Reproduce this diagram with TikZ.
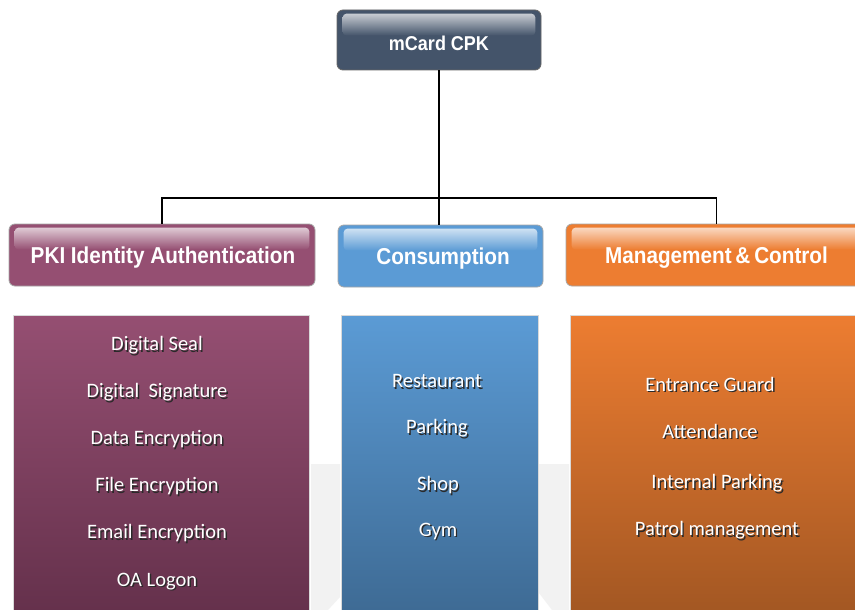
\documentclass[tikz,border=0pt]{standalone}
\usepackage{fontspec}
\setmainfont{Carlito}
\newfontfamily\hdrfont[FakeStretch=0.9]{Liberation Sans Bold}
\usetikzlibrary{calc}
\definecolor{topc}{HTML}{44546A}
\definecolor{pkic}{HTML}{954F72}
\definecolor{pkid}{HTML}{68324E}
\definecolor{conc}{HTML}{5B9BD5}
\definecolor{cond}{HTML}{406E99}
\definecolor{mgc}{HTML}{ED7D31}
\definecolor{mgd}{HTML}{A85A24}
\definecolor{shadowc}{HTML}{2A2A2A}
\definecolor{bggray}{HTML}{F2F2F2}
\newcommand{\shtxt}[1]{\makebox[0pt][l]{\hspace{1.4pt}\raisebox{-1.4pt}{\color{shadowc}#1}}#1}
\tikzset{
  hdrbox/.style={rounded corners=6pt, draw=gray!70, line width=0.8pt, inner sep=0pt},
  hdrtext/.style={text=white, font=\hdrfont\fontsize{23}{27}\selectfont, inner sep=0pt},
  itembox/.style={draw=white!70!gray, line width=0.5pt, inner sep=0pt},
  item/.style={text=white, font=\fontsize{20.5}{24}\selectfont, inner sep=0pt, anchor=center},
  conn/.style={draw=black, line width=1.3pt}
}
\newcommand{\gloss}[2]{%
  \shade[rounded corners=4pt, top color=white!70!#2, bottom color=#2]
    ($(#1.north west)+(6,4)$) rectangle ($(#1.north east)+(-6,26)$);}
\begin{document}
\begin{tikzpicture}[x=1pt,y=-1pt]
\clip (0,0) rectangle (855,610);
\fill[white] (0,0) rectangle (855,610);
% faint background shape
\fill[bggray] (311,464) -- (340,464) -- (340,597) -- (328,610) -- (311,610) -- cycle;
\fill[bggray] (539,464) -- (569,464) -- (569,610) -- (552,610) -- (539,593) -- cycle;

% lower boxes
\node[itembox, minimum width=296pt, minimum height=310pt, top color=pkic, bottom color=pkid!95!black] (pkibody) at (161,470) {};
\node[itembox, minimum width=197pt, minimum height=310pt, top color=conc, bottom color=cond!95!black] (conbody) at (439.5,470) {};
\node[itembox, minimum width=300pt, minimum height=310pt, top color=mgc, bottom color=mgd!95!black] (mgbody) at (720,470) {};

% header boxes
\node[hdrbox, fill=topc, minimum width=204pt, minimum height=60pt, draw=gray!80!black] (root) at (439,40) {};
\gloss{root}{topc}
\node[hdrtext, font=\hdrfont\fontsize{20}{24}\selectfont] (roottxt) at (439,43) {mCard CPK};

\node[hdrbox, fill=pkic, minimum width=306pt, minimum height=62pt] (pki) at (162,255) {};
\gloss{pki}{pkic}
\node[hdrtext] (pkitxt) at (163,258) {PKI Identity Authentication};

\node[hdrbox, fill=conc, minimum width=205pt, minimum height=62pt] (con) at (440.5,256) {};
\gloss{con}{conc}
\node[hdrtext] (context) at (443,259) {Consumption};

\node[hdrbox, fill=mgc, minimum width=301pt, minimum height=62pt] (mg) at (716.5,255) {};
\gloss{mg}{mgc}
\node[hdrtext] (mgtxt) at (716.5,258) {Management\,\&\,Control};

% connectors
\coordinate (j) at (439,198);
\draw[conn] (root.south) -- (j);
\draw[conn] (pki.north) |- (j) -| (mg.north);
\draw[conn] (j) -- (j |- con.north);

% items
\node[item] (i1) at (157,346) {\shtxt{Digital Seal}};
\node[item] (i2) at (157,393) {\shtxt{Digital\ \ Signature}};
\node[item] (i3) at (157,440) {\shtxt{Data Encryption}};
\node[item] (i4) at (157,487) {\shtxt{File Encryption}};
\node[item] (i5) at (157,534) {\shtxt{Email Encryption}};
\node[item] (i6) at (157,582) {\shtxt{OA Logon}};

\node[item] (c1) at (437,382) {\shtxt{Restaurant}};
\node[item] (c2) at (437,429) {\shtxt{Parking}};
\node[item] (c3) at (438,486) {\shtxt{Shop}};
\node[item] (c4) at (438,532) {\shtxt{Gym}};

\node[item] (m1) at (710,385) {\shtxt{Entrance Guard}};
\node[item] (m2) at (710,432) {\shtxt{Attendance}};
\node[item] (m3) at (717,484) {\shtxt{Internal Parking}};
\node[item] (m4) at (717,531) {\shtxt{Patrol management}};
\end{tikzpicture}
\end{document}
